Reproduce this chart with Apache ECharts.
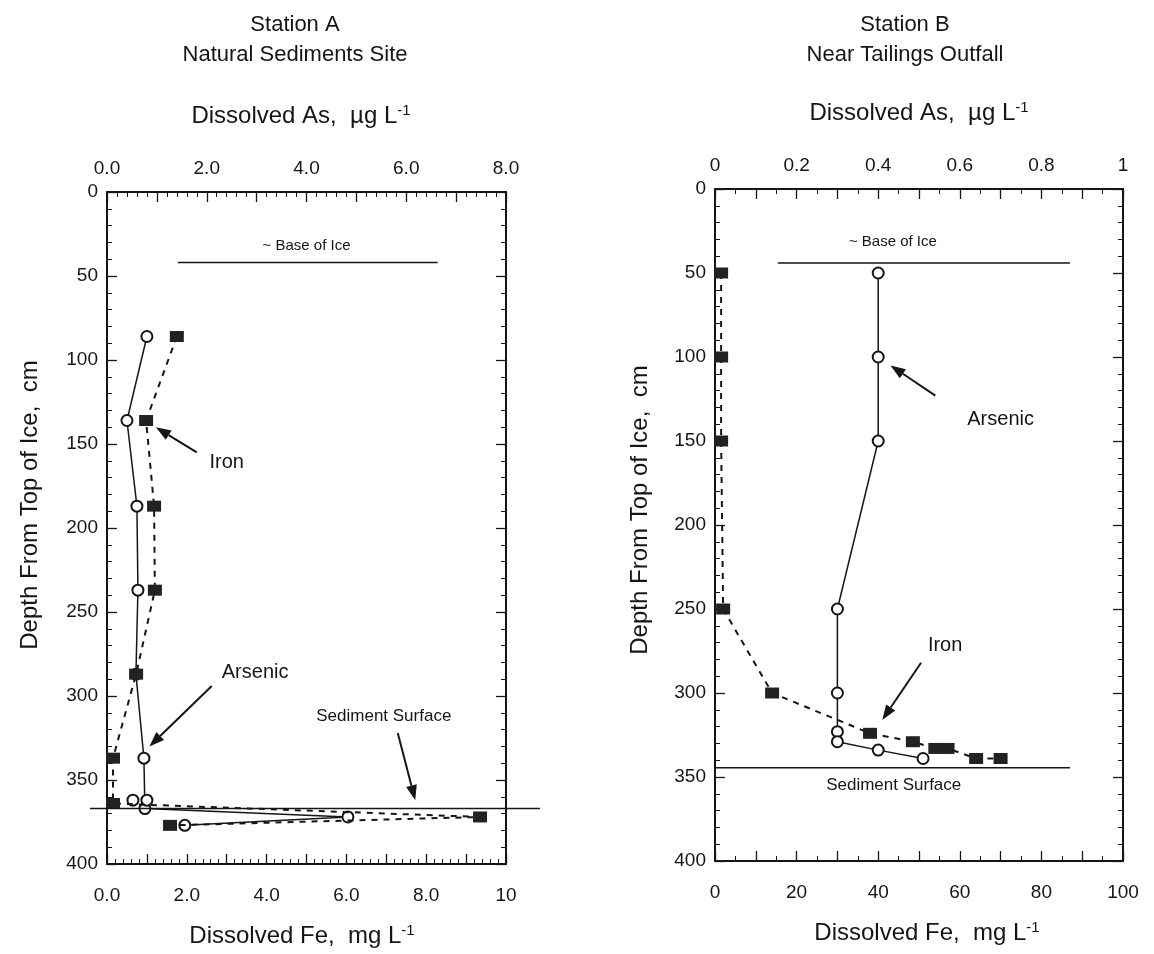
<!DOCTYPE html>
<html><head><meta charset="utf-8">
<script src="https://cdn.jsdelivr.net/npm/echarts@6/dist/echarts.min.js"></script>
<style>html,body{margin:0;padding:0;background:#fff}#c{width:1154px;height:954px}</style>
</head><body><div id="c"></div>
<script>
// ---- Data ----
// Station A
const depthAsA = [86, 136, 187, 237, 287, 337, 367, 372, 377];
const asA      = [0.80, 0.40, 0.60, 0.62, 0.58, 0.74, 0.76, 4.83, 1.56];
const depthAsAExtra = [362, 362];
const asAExtra      = [0.52, 0.80];
const depthFeA = [86, 136, 187, 237, 287, 337, 364, 372, 377];
const feA      = [1.75, 0.98, 1.18, 1.20, 0.73, 0.15, 0.15, 9.35, 1.58];
// Station B
const depthAsB = [50, 100, 150, 250, 300, 323, 329, 334, 339];
const asB      = [0.40, 0.40, 0.40, 0.30, 0.30, 0.30, 0.30, 0.40, 0.51];
const depthFeB = [50, 100, 150, 250, 300, 324, 329, 333, 333, 339, 339];
const feB      = [1.5, 1.5, 1.5, 2, 14, 38, 48.5, 54, 57, 64, 70];
// Tick labels
const asTicksA = ['0.0', '2.0', '4.0', '6.0', '8.0'];
const feTicksA = ['0.0', '2.0', '4.0', '6.0', '8.0', '10'];
const asTicksB = ['0', '0.2', '0.4', '0.6', '0.8', '1'];
const feTicksB = ['0', '20', '40', '60', '80', '100'];
const depthTicks = ['0', '50', '100', '150', '200', '250', '300', '350', '400'];

const zip = (xs, ys) => xs.map((x, i) => [x, ys[i]]);
const FONT = '"Liberation Sans", Arial, Helvetica, sans-serif';
const INK = '#151515';

const chart = echarts.init(document.getElementById('c'));

function xAx(grid, pos, min, max, interval, labels, minorSplit, show) {
  return {
    type: 'value', gridIndex: grid, position: pos, min: min, max: max, interval: interval,
    axisLine: { show: true, onZero: false, lineStyle: { color: INK, width: 2 } },
    axisTick: { show: true, inside: true, length: 10, lineStyle: { color: INK, width: 1.3 } },
    minorTick: { show: true, splitNumber: minorSplit, length: 5, lineStyle: { color: INK, width: 1 } },
    splitLine: { show: false }, minorSplitLine: { show: false },
    axisLabel: {
      show: show, margin: pos === 'top' ? 14 : 22, color: INK, fontSize: 19, fontFamily: FONT,
      formatter: function (v) {
        const step = (max - min) / (labels.length - 1);
        const k = Math.round((v - min) / step);
        if (Math.abs(min + k * step - v) > 1e-6) return '';
        return labels[k];
      }
    }
  };
}
function yAx(grid, pos, show) {
  return {
    type: 'value', gridIndex: grid, position: pos, inverse: true, min: 0, max: 400, interval: 50,
    axisLine: { show: true, onZero: false, lineStyle: { color: INK, width: 2 } },
    axisTick: { show: true, inside: true, length: 10, lineStyle: { color: INK, width: 1.3 } },
    minorTick: { show: true, splitNumber: 5, length: 5, lineStyle: { color: INK, width: 1 } },
    splitLine: { show: false }, minorSplitLine: { show: false },
    axisLabel: {
      show: show, margin: 9, color: INK, fontSize: 19, fontFamily: FONT,
      formatter: function (v) { const k = Math.round(v / 50); return depthTicks[k]; }
    }
  };
}

const asStyle = (xi, yi, data, showLine) => ({
  type: 'line', xAxisIndex: xi, yAxisIndex: yi, data: data,
  symbol: 'emptyCircle', symbolSize: 11, z: 3,
  lineStyle: { color: INK, width: 1.5, opacity: showLine ? 1 : 0 },
  itemStyle: { color: INK, borderColor: INK, borderWidth: 1.4 },
  animation: false, clip: false
});
const feStyle = (xi, yi, data) => ({
  type: 'line', xAxisIndex: xi, yAxisIndex: yi, data: data,
  symbol: 'rect', symbolSize: [14, 11], z: 4,
  lineStyle: { color: INK, width: 2, type: [6, 6] },
  itemStyle: { color: '#222' },
  animation: false, clip: false
});

const sup = { fontSize: 15, verticalAlign: 'top', padding: [0, 0, 11, 0], fontFamily: FONT, color: INK };
const titleStyle = { fontSize: 22, fontWeight: 'normal', color: INK, fontFamily: FONT };
const axTitleStyle = { fontSize: 24, fontWeight: 'normal', color: INK, fontFamily: FONT, rich: { s: sup, n: { fontSize: 24, fontFamily: FONT, color: INK } } };

chart.setOption({
  animation: false,
  backgroundColor: '#fff',
  grid: [
    { left: 107, top: 192, width: 399, height: 672 },
    { left: 715, top: 189, width: 408, height: 672 }
  ],
  title: [
    { text: 'Station A', left: 290, top: 9, textAlign: 'center', textStyle: titleStyle },
    { text: 'Natural Sediments Site', left: 290, top: 39, textAlign: 'center', textStyle: titleStyle },
    { text: '{n|Dissolved As,  µg L}{s|-1}', left: 296, top: 98, textAlign: 'center', textStyle: axTitleStyle },
    { text: '{n|Dissolved Fe,  mg L}{s|-1}', left: 297, top: 918, textAlign: 'center', textStyle: axTitleStyle },
    { text: 'Station B', left: 900, top: 9, textAlign: 'center', textStyle: titleStyle },
    { text: 'Near Tailings Outfall', left: 900, top: 39, textAlign: 'center', textStyle: titleStyle },
    { text: '{n|Dissolved As,  µg L}{s|-1}', left: 914, top: 95, textAlign: 'center', textStyle: axTitleStyle },
    { text: '{n|Dissolved Fe,  mg L}{s|-1}', left: 922, top: 915, textAlign: 'center', textStyle: axTitleStyle }
  ],
  xAxis: [
    xAx(0, 'top', 0, 8, 1, asTicksA, 5, true),
    xAx(0, 'bottom', 0, 10, 1, feTicksA, 5, true),
    xAx(1, 'top', 0, 1, 0.1, asTicksB, 2, true),
    xAx(1, 'bottom', 0, 100, 10, feTicksB, 2, true)
  ],
  yAxis: [
    yAx(0, 'left', true), yAx(0, 'right', false),
    yAx(1, 'left', true), yAx(1, 'right', false)
  ],
  series: [
    asStyle(0, 0, zip(asA, depthAsA), true),
    asStyle(0, 0, zip(asAExtra, depthAsAExtra), false),
    feStyle(1, 0, zip(feA, depthFeA)),
    asStyle(2, 2, zip(asB, depthAsB), true),
    feStyle(3, 2, zip(feB, depthFeB))
  ]
});

// ---- Annotations placed through the axes' scales ----
function px(panel, x, d) {
  return panel === 0 ? chart.convertToPixel({ xAxisIndex: 0, yAxisIndex: 0 }, [x, d])
                     : chart.convertToPixel({ xAxisIndex: 2, yAxisIndex: 2 }, [x, d]);
}
const G = [];
function hline(panel, x1, x2, d, w) {
  const a = px(panel, x1, d), b = px(panel, x2, d);
  G.push({ type: 'line', shape: { x1: a[0], y1: a[1], x2: b[0], y2: b[1] }, style: { stroke: INK, lineWidth: w || 1.5 }, z: 10 });
}
function label(panel, x, d, text, size) {
  const p = px(panel, x, d);
  G.push({ type: 'text', x: p[0], y: p[1], style: { text: text, fontSize: size, fontFamily: FONT, fill: INK, align: 'center', verticalAlign: 'middle' }, z: 10 });
}
function arrow(panel, x1, d1, x2, d2) {
  const a = px(panel, x1, d1), b = px(panel, x2, d2);
  const ang = Math.atan2(b[1] - a[1], b[0] - a[0]);
  const L = 15, W = 5.5;
  const bx = b[0] - L * Math.cos(ang), by = b[1] - L * Math.sin(ang);
  G.push({ type: 'line', shape: { x1: a[0], y1: a[1], x2: bx, y2: by }, style: { stroke: INK, lineWidth: 2 }, z: 10 });
  G.push({ type: 'polygon', shape: { points: [[b[0], b[1]], [bx - W * Math.sin(ang), by + W * Math.cos(ang)], [bx + W * Math.sin(ang), by - W * Math.cos(ang)]] }, style: { fill: INK }, z: 10 });
}
// Station A (x in As units, y in depth)
hline(0, 1.42, 6.63, 42);
label(0, 4.0, 32, '~ Base of Ice', 15);
label(0, 2.4, 161, 'Iron', 20);
arrow(0, 1.8, 155, 0.98, 140);
label(0, 2.97, 286, 'Arsenic', 20);
arrow(0, 2.10, 294, 0.85, 330);
label(0, 5.55, 312, 'Sediment Surface', 17);
arrow(0, 5.83, 322, 6.18, 362);
hline(0, -0.34, 8.68, 367);
// Station B
hline(1, 0.154, 0.87, 44);
label(1, 0.436, 31.5, '~ Base of Ice', 15);
label(1, 0.70, 137, 'Arsenic', 20);
arrow(1, 0.54, 123, 0.43, 105);
label(1, 0.564, 272, 'Iron', 20);
arrow(1, 0.505, 282, 0.41, 316);
label(1, 0.438, 355, 'Sediment Surface', 17);
hline(1, 0, 0.87, 344.5);
// Y axis titles
G.push({ type: 'text', x: 30, y: 505, rotation: Math.PI / 2, style: { text: 'Depth From Top of Ice,  cm', fontSize: 24, fontFamily: FONT, fill: INK, align: 'center', verticalAlign: 'middle' } });
G.push({ type: 'text', x: 640, y: 510, rotation: Math.PI / 2, style: { text: 'Depth From Top of Ice,  cm', fontSize: 24, fontFamily: FONT, fill: INK, align: 'center', verticalAlign: 'middle' } });
chart.setOption({ graphic: G });
</script>
</body></html>
